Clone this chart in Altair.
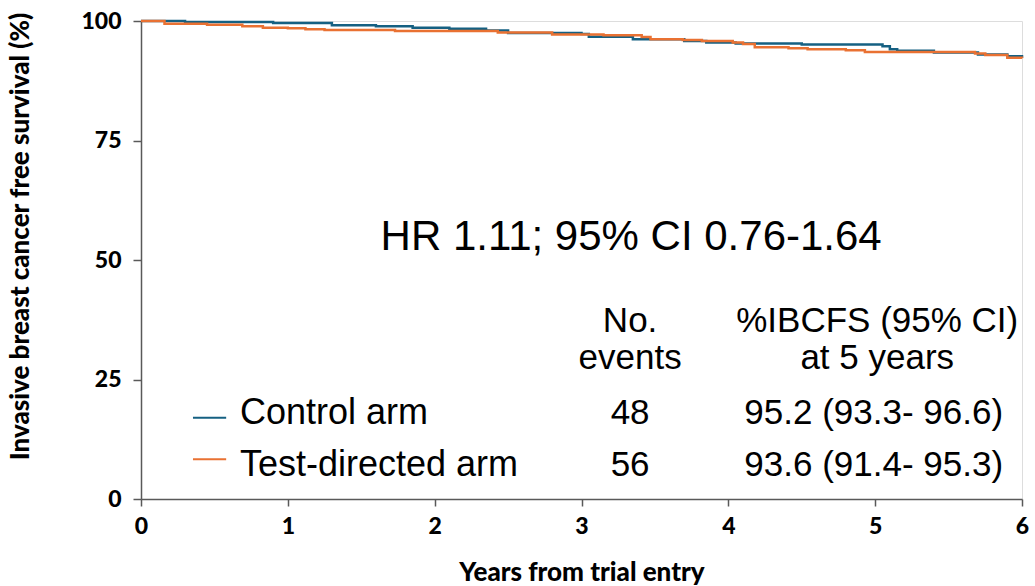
import altair as alt
import pandas as pd

# Kaplan-Meier step curves (years, % invasive breast cancer free survival)
control_years = [0, 0.3, 0.9, 1.3, 1.6, 1.85, 2.1, 2.35, 2.5, 3.0, 3.05, 3.35, 3.7, 3.85, 4.05, 4.5, 5.05, 5.1, 5.15, 5.4, 5.7, 5.9, 6.0]
control_surv = [100, 99.8, 99.6, 99.1, 98.9, 98.6, 98.4, 98.0, 97.5, 97.3, 96.7, 96.2, 95.8, 95.5, 95.3, 95.1, 94.7, 94.1, 93.8, 93.4, 93.0, 92.6, 92.3]

test_years = [0, 0.16, 0.45, 0.69, 0.83, 1.0, 1.12, 1.25, 1.73, 2.43, 2.8, 3.15, 3.41, 3.47, 3.69, 3.82, 4.03, 4.1, 4.18, 4.41, 4.54, 4.8, 4.93, 5.68, 5.75, 5.9, 6.0]
test_surv = [100, 99.4, 99.2, 98.9, 98.6, 98.5, 98.3, 98.1, 97.9, 97.6, 97.2, 97.0, 96.65, 96.2, 96.0, 95.8, 95.5, 95.2, 94.5, 94.3, 94.1, 93.9, 93.5, 93.2, 92.9, 92.3, 92.2]

arms = ["Control arm", "Test-directed arm"]
arm_colors = ["#156082", "#E97132"]
n_events = ["48", "56"]
ibcfs_5y = ["95.2 (93.3- 96.6)", "93.6 (91.4- 95.3)"]
hr_text = "HR 1.11; 95% CI 0.76-1.64"
x_ticks = [0, 1, 2, 3, 4, 5, 6]
y_ticks = [0, 25, 50, 75, 100]

ctrl_df = pd.DataFrame({"year": control_years, "surv": control_surv, "arm": arms[0]})
test_df = pd.DataFrame({"year": test_years, "surv": test_surv, "arm": arms[1]})

xs = alt.Scale(domain=[0, 6], nice=False, zero=False)
ys = alt.Scale(domain=[0, 100], nice=False)

FONT_AX = "Lato"
x_axis = alt.Axis(values=x_ticks, format="d", title="Years from trial entry", grid=False,
                  labelFont=FONT_AX, labelFontWeight=900, labelFontSize=23, labelColor="black",
                  labelFlush=False,
                  titleFont=FONT_AX, titleFontWeight=900, titleFontSize=26, titleColor="black",
                  domainColor="#595959", domainWidth=1.5, tickColor="#595959", tickWidth=1.5,
                  tickSize=7, labelPadding=9, titleY=73, titleBaseline="middle")
y_axis = alt.Axis(values=y_ticks, format="d", title="Invasive breast cancer free survival (%)", grid=False,
                  labelFont=FONT_AX, labelFontWeight=900, labelFontSize=23, labelColor="black",
                  labelFlush=False,
                  titleFont=FONT_AX, titleFontWeight=900, titleFontSize=26, titleColor="black",
                  domainColor="#595959", domainWidth=1.5, tickColor="#595959", tickWidth=1.5,
                  tickSize=8, labelPadding=12, titleX=-121, titleY=215, titleBaseline="middle",
                  titleAngle=270)

ctrl = alt.Chart(ctrl_df).mark_line(interpolate="step-after", strokeWidth=2.5, color=arm_colors[0]).encode(
    x=alt.X("year:Q", scale=xs, axis=x_axis),
    y=alt.Y("surv:Q", scale=ys, axis=y_axis),
)
test = alt.Chart(test_df).mark_line(interpolate="step-after", strokeWidth=2.5, color=arm_colors[1]).encode(
    x=alt.X("year:Q", scale=xs),
    y=alt.Y("surv:Q", scale=ys),
)

# legend sample lines
leg_df = pd.DataFrame({"x1": [0.354, 0.354], "x2": [0.58, 0.58], "y": [17.0, 8.3], "arm": arms})
leg = alt.Chart(leg_df).mark_rule(strokeWidth=2).encode(
    x=alt.X("x1:Q", scale=xs), x2="x2:Q", y=alt.Y("y:Q", scale=ys),
    color=alt.Color("arm:N", scale=alt.Scale(domain=arms, range=arm_colors), legend=None),
)

# HR text
hr_df = pd.DataFrame({"x": [3.338], "y": [54.8], "t": [hr_text]})
hr = alt.Chart(hr_df).mark_text(font="Liberation Sans", fontSize=42, color="black", align="center", baseline="middle").encode(
    x=alt.X("x:Q", scale=xs), y=alt.Y("y:Q", scale=ys), text="t:N")

# table text
tbl_left = pd.DataFrame({"x": [0.674, 0.674], "y": [18.0, 7.1], "t": arms})
tbl_center = pd.DataFrame({
    "x": [3.331, 3.331, 5.014, 5.014, 3.331, 3.331, 4.99, 4.99],
    "y": [37.3, 29.5, 37.3, 29.5, 18.0, 7.1, 18.0, 7.1],
    "t": ["No.", "events", "%IBCFS (95% CI)", "at 5 years", n_events[0], n_events[1], ibcfs_5y[0], ibcfs_5y[1]],
})
tl = alt.Chart(tbl_left).mark_text(font="Liberation Sans", fontSize=36, color="black", align="left", baseline="middle").encode(
    x=alt.X("x:Q", scale=xs), y=alt.Y("y:Q", scale=ys), text="t:N")
tc = alt.Chart(tbl_center).mark_text(font="Liberation Sans", fontSize=35, color="black", align="center", baseline="middle").encode(
    x=alt.X("x:Q", scale=xs), y=alt.Y("y:Q", scale=ys), text="t:N")

chart = alt.layer(ctrl, test, leg, hr, tl, tc).properties(
    width=881, height=478,
    autosize=alt.AutoSizeParams(type="none"),
    padding={"left": 141, "top": 21, "right": 13, "bottom": 87},
).configure_view(stroke=None).configure(background="white")

chart.save("out.html", embed_options={"renderer": "svg", "actions": False})
